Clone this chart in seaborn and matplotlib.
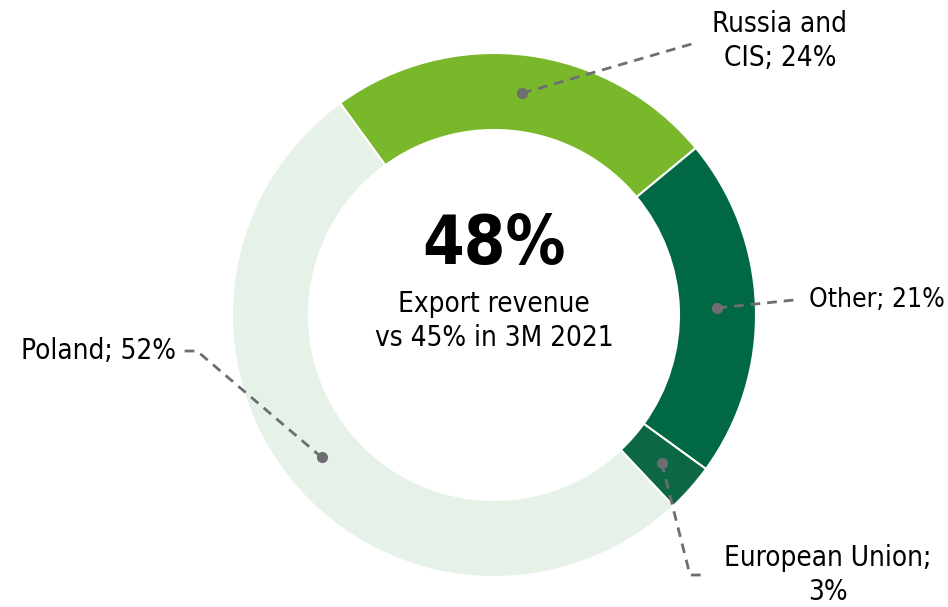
import numpy as np
import matplotlib
matplotlib.use("Agg")
import matplotlib.pyplot as plt
import seaborn as sns

# data
label_text = ["Russia and\nCIS; 24%", "Other; 21%", "European Union;\n3%", "Poland; 52%"]
shares = [24, 21, 3, 52]
colors = ["#78b82a", "#006843", "#0b6842", "#e6f2e7"]
headline = "48%"
subtitle = "Export revenue\nvs 45% in 3M 2021"

sns.set_theme(style="white")
plt.rcParams['font.family'] = ['DejaVu Sans']
plt.rcParams['font.stretch'] = 'condensed'
plt.rcParams['text.color'] = 'black'

W, H = 948, 607
fig = plt.figure(figsize=(W / 100, H / 100), dpi=100)
ax = fig.add_axes([0, 0, 1, 1])

def px(x, y):
    # pixel position (from top-left) -> data coords
    return (x, H - y)

cx, cy = px(494, 315)
r_out, r_in = 262, 185
wedges, _ = ax.pie(shares, colors=colors, startangle=126, counterclock=False,
                   center=(cx, cy), radius=r_out, frame=True,
                   wedgeprops=dict(width=r_out - r_in, edgecolor="white", linewidth=1.5))
ax.set_xlim(0, W)
ax.set_ylim(0, H)
ax.set_aspect("equal")
ax.axis("off")

# centre text
ax.text(*px(494, 245), headline, ha="center", va="center", fontsize=48,
        fontweight="bold")
ax.text(*px(494, 321), subtitle, ha="center", va="center", fontsize=20,
        linespacing=1.3)

# leader lines: dot at middle of each ring segment, then path to label
line_kw = dict(color="#6e6d72", lw=2.0, linestyle=(0, (3.5, 2.5)), zorder=3)
r_mid = (r_out + r_in) / 2
paths = [
    [px(695, 43)],
    [px(794, 300)],
    [px(690, 575), px(702, 575)],
    [px(197, 351), px(183, 351)],
]
for w, extra in zip(wedges, paths):
    th = np.deg2rad((w.theta1 + w.theta2) / 2)
    dot = (cx + r_mid * np.cos(th), cy + r_mid * np.sin(th))
    xs = [dot[0]] + [p[0] for p in extra]
    ys = [dot[1]] + [p[1] for p in extra]
    ax.plot(xs, ys, **line_kw)
    ax.plot(*dot, "o", color="#6e6d72", ms=7, zorder=4)

# labels
ax.text(*px(780, 41), label_text[0], ha="center", va="center", fontsize=20, linespacing=1.3)
ax.text(*px(945, 300), label_text[1], ha="right", va="center", fontsize=19)
ax.text(*px(828, 575), label_text[2], ha="center", va="center", fontsize=20, linespacing=1.3)
ax.text(*px(176, 351), label_text[3], ha="right", va="center", fontsize=20)

fig.savefig("out.png", dpi=100)
